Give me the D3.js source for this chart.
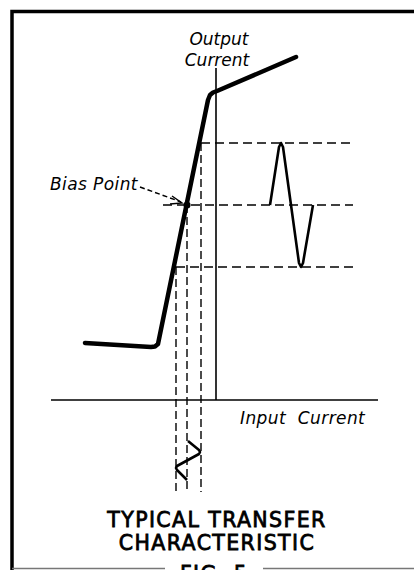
<!DOCTYPE html>
<html>
<head>
<meta charset="utf-8">
<script src="https://cdn.jsdelivr.net/npm/d3@7"></script>
<style>
  html, body { margin: 0; padding: 0; background: #fff; }
  svg { display: block; }
</style>
</head>
<body>
<div id="chart"></div>
<script>
(function() {
  "use strict";

  // transfer curve, input current (x) vs output current (y), arbitrary units
  var transferCurve = [[-13.1, 5.7], [-6.5, 5.3], [-6.1, 5.35], [-5.8, 5.6],
    [-0.8, 30.0], [-0.6, 30.5], [-0.3, 30.75], [0.1, 30.9], [8.0, 34.3]];
  var biasPoint = [-2.9, 19.5];

  // swing of the input around the bias point and the output it gives
  var inputLevels = [-1.5, -2.9, -4.0];
  var outputLevels = [25.7, 19.5, 13.3];
  var outputLineStart = [-1.5, -5.3, -4.0];
  var guideEnd = {x: 13.7, y: -9.2};

  var outputWave = [[5.4, 19.5], [6.3, 25.3], [6.5, 25.7], [6.7, 25.3], [7.5, 19.5],
    [8.3, 13.7], [8.5, 13.3], [8.7, 13.7], [9.7, 19.5]];
  var inputWave = [[-2.8, -4.1], [-1.7, -5.0], [-1.6, -5.2], [-1.7, -5.4],
    [-3.9, -6.6], [-4.0, -6.8], [-3.9, -7.0], [-2.9, -8.0]];

  var xExtent = [-16.5, 16.2];
  var yExtent = [0, 33.2];

  var titleLines = ["TYPICAL TRANSFER", "CHARACTERISTIC"];
  var figLabel = "FIG. 5";

  var width = 414, height = 570;
  var labelFont = "'DejaVu Sans', sans-serif";

  var svg = d3.select("#chart").append("svg")
    .attr("width", width)
    .attr("height", height);

  var x = d3.scaleLinear().domain(xExtent).range([51, 378]);
  var y = d3.scaleLinear().domain(yExtent).range([400, 68]);

  var line = d3.line()
    .x(function(d) { return x(d[0]); })
    .y(function(d) { return y(d[1]); });

  // frame
  svg.append("path")
    .attr("d", "M12,570 V11.5 H414")
    .attr("fill", "none")
    .attr("stroke", "#000")
    .attr("stroke-width", 3.5);
  svg.append("path")
    .attr("d", "M12,568.5 H165 M263,568.5 H414")
    .attr("fill", "none")
    .attr("stroke", "#777")
    .attr("stroke-width", 1.5);

  // axes
  svg.append("line")
    .attr("x1", x(xExtent[0])).attr("x2", x(xExtent[1]))
    .attr("y1", y(0)).attr("y2", y(0))
    .attr("stroke", "#000").attr("stroke-width", 1.6);
  svg.append("line")
    .attr("x1", x(0)).attr("x2", x(0))
    .attr("y1", y(yExtent[0])).attr("y2", y(yExtent[1]))
    .attr("stroke", "#000").attr("stroke-width", 1.6);

  // dashed guides
  var guides = svg.append("g")
    .attr("stroke", "#000")
    .attr("stroke-width", 1.4)
    .attr("stroke-dasharray", "9,5");
  outputLevels.forEach(function(level, i) {
    guides.append("line")
      .attr("x1", x(outputLineStart[i])).attr("x2", x(guideEnd.x))
      .attr("y1", y(level)).attr("y2", y(level));
  });
  inputLevels.forEach(function(level, i) {
    guides.append("line")
      .attr("x1", x(level)).attr("x2", x(level))
      .attr("y1", y(outputLevels[i])).attr("y2", y(guideEnd.y))
      .attr("stroke-dasharray", "8,4");
  });

  // transfer curve
  svg.append("path")
    .datum(transferCurve)
    .attr("d", line)
    .attr("fill", "none")
    .attr("stroke", "#000")
    .attr("stroke-width", 4.5)
    .attr("stroke-linejoin", "round")
    .attr("stroke-linecap", "round");

  // input and output signals
  [outputWave, inputWave].forEach(function(wave) {
    svg.append("path")
      .datum(wave)
      .attr("d", line)
      .attr("fill", "none")
      .attr("stroke", "#000")
      .attr("stroke-width", 2.6)
      .attr("stroke-linejoin", "round");
  });

  svg.append("circle")
    .attr("cx", x(biasPoint[0]))
    .attr("cy", y(biasPoint[1]))
    .attr("r", 3.5)
    .attr("fill", "#000");

  // bias point label with dashed arrow
  var bx = x(biasPoint[0]), by = y(biasPoint[1]);
  svg.append("text")
    .attr("x", 50).attr("y", 190)
    .attr("font-family", labelFont)
    .attr("font-style", "italic")
    .attr("font-size", 17)
    .attr("letter-spacing", 0.4)
    .text("Bias Point");
  svg.append("path")
    .attr("d", `M140,187 L${bx - 6},${by - 3}`)
    .attr("fill", "none")
    .attr("stroke", "#000")
    .attr("stroke-width", 1.4)
    .attr("stroke-dasharray", "5,3");
  svg.append("path")
    .attr("d", `M${bx - 15},${by - 9} L${bx - 5},${by - 2} L${bx - 17},${by - 1}`)
    .attr("fill", "none")
    .attr("stroke", "#000")
    .attr("stroke-width", 1.4);

  // axis titles
  svg.append("text")
    .attr("x", x(0) + 3).attr("y", 45)
    .attr("text-anchor", "middle")
    .attr("font-family", labelFont)
    .attr("font-style", "italic")
    .attr("font-size", 17)
    .text("Output");
  svg.append("text")
    .attr("x", x(0) + 1).attr("y", 66)
    .attr("text-anchor", "middle")
    .attr("font-family", labelFont)
    .attr("font-style", "italic")
    .attr("font-size", 17)
    .text("Current");
  svg.append("text")
    .attr("x", 240).attr("y", 424)
    .attr("font-family", labelFont)
    .attr("font-style", "italic")
    .attr("font-size", 17)
    .attr("word-spacing", 6)
    .attr("letter-spacing", 0.4)
    .text("Input Current");

  // caption (the figure number is cut off by the page edge, as in the scan)
  var caption = svg.append("g")
    .attr("font-family", labelFont)
    .attr("font-size", 20.5)
    .attr("text-anchor", "middle")
    .attr("letter-spacing", 1.4)
    .attr("stroke", "#000")
    .attr("stroke-width", 0.8);
  titleLines.forEach(function(t, i) {
    caption.append("text")
      .attr("x", 217)
      .attr("y", 527 + i * 23)
      .text(t);
  });
  caption.append("text")
    .attr("x", 214)
    .attr("y", 581)
    .text(figLabel);
})();
</script>
</body>
</html>
